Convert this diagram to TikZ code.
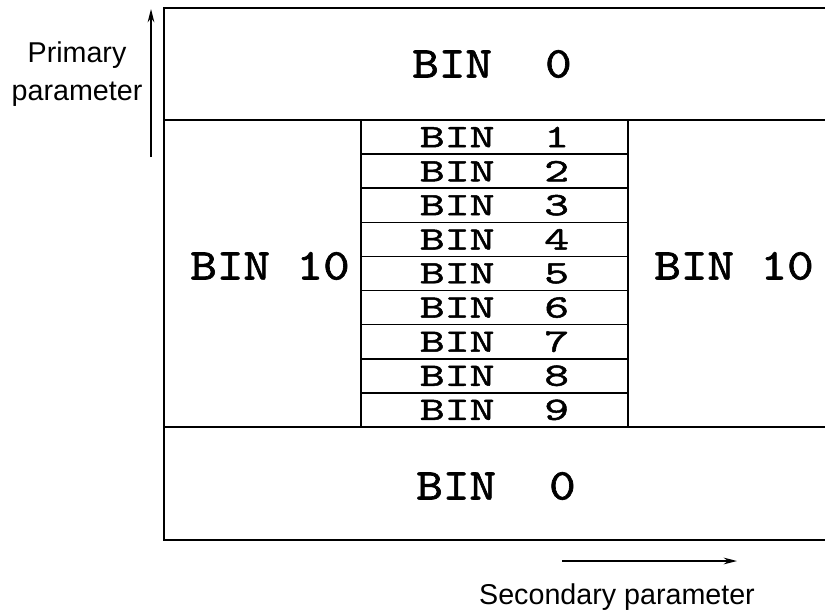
\documentclass[tikz,border=0pt]{standalone}
\usepackage{fontspec}
\setmainfont{Liberation Sans}
\newfontfamily\binfont[Extension=.otf,FakeStretch=1.15,FakeBold=1.5]{lmmono10-regular}
\newfontfamily\smallbinfont[Extension=.otf,FakeStretch=1.45,FakeBold=1.5]{lmmono10-regular}
\usetikzlibrary{arrows.meta}

\begin{document}
\begin{tikzpicture}[x=0.75pt,y=-0.75pt,
    bigbin/.style={font=\binfont\fontsize{33}{38}\selectfont},
    smallbin/.style={font=\smallbinfont\fontsize{24.5}{28}\selectfont},
    axislabel/.style={font=\fontsize{21.5}{29}\selectfont,align=center},
    binline/.style={line width=1.2pt},
    axisarrow/.style={line width=1pt,-{Stealth[length=10pt,width=5pt]}}]
        \useasboundingbox (0,0) rectangle (825,614);
        % frame, open at the right
        \draw[binline] (825,8) -- (164,8) -- (164,540) -- (825,540);
        \draw[binline] (164,120) -- (825,120);
        \draw[binline] (164,427) -- (825,427);
        \draw[binline] (361,120) -- (361,427);
        \draw[binline] (628,120) -- (628,427);
        \foreach \i in {1,...,8}
            \draw[binline] (361,120+\i*34.11) -- (628,120+\i*34.11);
        % bins
        \node[bigbin] (bintop) at (492,64) {BIN~~0};
        \node[bigbin] (binbot) at (496,486) {BIN~~0};
        \node[bigbin] (binleft) at (270,266) {BIN~10};
        \node[bigbin] (binright) at (734,266) {BIN~10};
        \foreach \i in {1,...,9}
            \node[smallbin] (bin\i) at (494.5,102.9+\i*34.11) {BIN~~\i};
        % axes
        \node[axislabel] (primary) at (77,74) {Primary\\parameter};
        \coordinate (primbot) at (151,157);
        \coordinate (primtop) at (151,9);
        \draw[axisarrow] (primbot) -- (primtop);
        \node[axislabel] (secondary) at (617,597) {Secondary parameter};
        \coordinate (secleft) at (562,561);
        \coordinate (secright) at (737,561);
        \draw[axisarrow] (secleft) -- (secright);
\end{tikzpicture}
\end{document}
